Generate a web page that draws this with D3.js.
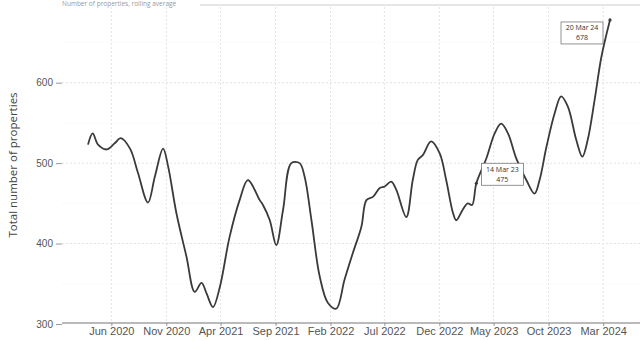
<!DOCTYPE html>
<html>
<head>
    <meta charset="utf-8">
    <style>
        body { margin: 0; background: white; }
        svg { font-family: "Open Sans", sans-serif; display: block; }
    </style>
</head>
<body>
<svg width="641" height="341"></svg>
<script src="https://cdn.jsdelivr.net/npm/d3@7"></script>
<script>
    // values
    let dates = [
        "2020-03-28", "2020-04-10", "2020-04-25", "2020-05-19", "2020-06-11", "2020-06-27",
        "2020-07-23", "2020-08-14", "2020-09-11", "2020-09-30", "2020-10-23", "2020-11-06",
        "2020-11-29", "2020-12-27", "2021-01-19", "2021-02-07", "2021-02-21", "2021-03-11",
        "2021-03-30", "2021-04-26", "2021-05-24", "2021-06-16", "2021-07-19", "2021-07-28",
        "2021-08-16", "2021-09-03", "2021-09-22", "2021-10-15", "2021-11-07", "2021-11-21",
        "2021-12-10", "2022-01-02", "2022-01-25", "2022-02-17", "2022-03-12", "2022-04-04",
        "2022-04-28", "2022-05-12", "2022-05-30", "2022-06-18", "2022-07-02", "2022-07-20",
        "2022-08-03", "2022-08-31", "2022-09-18", "2022-10-02", "2022-10-16", "2022-11-08",
        "2022-12-02", "2022-12-20", "2023-01-08", "2023-01-17", "2023-02-04", "2023-02-18",
        "2023-03-02", "2023-03-14", "2023-04-11", "2023-05-04", "2023-05-22", "2023-06-10",
        "2023-07-03", "2023-07-31", "2023-08-23", "2023-09-06", "2023-09-25", "2023-10-18",
        "2023-11-05", "2023-11-24", "2023-12-17", "2024-01-03", "2024-01-18", "2024-02-06",
        "2024-02-25", "2024-03-20"
    ];
    let values = [
        523, 537, 523, 517, 525, 531,
        518, 488, 451, 483, 518, 496,
        438, 384, 340, 351, 338, 321,
        346, 408, 454, 479, 454, 448,
        429, 398, 442, 500, 500, 483,
        429, 359, 326, 319, 355, 388,
        421, 454, 458, 469, 471, 477,
        467, 433, 479, 504, 510, 527,
        512, 479, 438, 429, 442, 450,
        448, 475, 506, 537, 549, 537,
        506, 479, 462, 479, 520, 562,
        583, 570, 529, 508, 529, 578,
        632, 678
    ];
    let xTickDates = ["2020-06-01", "2020-11-01", "2021-04-01", "2021-09-01", "2022-02-01",
        "2022-07-01", "2022-12-01", "2023-05-01", "2023-10-01", "2024-03-01"];
    let yTicks = [300, 400, 500, 600];
    let yMinor = [350, 450, 550, 650];
    let notes = [
        { date: "2023-03-14", label: "14 Mar 23", value: 475 },
        { date: "2024-03-20", label: "20 Mar 24", value: 678 }
    ];

    let parse = d3.timeParse("%Y-%m-%d");
    let data = dates.map((d, i) => ({ date: parse(d), value: values[i] }));

    let svg = d3.select("svg");
    let plotLeft = 62, plotRight = 640, plotTop = 7, plotBottom = 323;

    let x = d3.scaleTime()
        .domain(d3.extent(data, d => d.date))
        .range([88, 610]);
    let y = d3.scaleLinear()
        .domain([300, 600])
        .range([324, 82.7]);

    // light grid
    let grid = svg.append("g");
    grid.selectAll(".vg")
        .data(xTickDates.map(parse))
        .join("line")
        .attr("x1", d => x(d)).attr("x2", d => x(d))
        .attr("y1", plotTop).attr("y2", plotBottom)
        .attr("stroke", "#e3e3e3")
        .attr("stroke-dasharray", "2,2");
    grid.selectAll(".hg")
        .data(yTicks.slice(1))
        .join("line")
        .attr("x1", plotLeft).attr("x2", plotRight)
        .attr("y1", d => y(d)).attr("y2", d => y(d))
        .attr("stroke", "#e3e3e3")
        .attr("stroke-dasharray", "2,2");
    grid.selectAll(".mg")
        .data(yMinor)
        .join("line")
        .attr("x1", plotLeft).attr("x2", plotRight)
        .attr("y1", d => y(d)).attr("y2", d => y(d))
        .attr("stroke", "#efefef")
        .attr("stroke-dasharray", "1,3");

    // top rule + small title
    svg.append("line")
        .attr("x1", 200).attr("x2", plotRight)
        .attr("y1", 5).attr("y2", 5)
        .attr("stroke", "#e6e6e6").attr("stroke-width", 2);
    svg.append("text")
        .attr("x", 62).attr("y", 6)
        .attr("font-size", 6.5).attr("fill", "#999")
        .text("Number of properties, rolling average");

    // axes
    let xAxis = svg.append("g")
        .attr("transform", `translate(0,${plotBottom})`)
        .call(d3.axisBottom(x).tickValues(xTickDates.map(parse))
            .tickFormat(d3.timeFormat("%b %Y")).tickSize(3));
    xAxis.select(".domain").remove();
    xAxis.append("line")
        .attr("x1", plotLeft).attr("x2", plotRight)
        .attr("stroke", "#777").attr("stroke-width", 1.2);
    xAxis.selectAll("text").attr("font-size", 11).attr("fill", "#555").attr("dy", "0.55em");
    xAxis.selectAll(".tick line").attr("stroke", "#999");

    let yAxis = svg.append("g")
        .attr("transform", `translate(${plotLeft},0)`)
        .call(d3.axisLeft(y).tickValues(yTicks).tickSize(6).tickPadding(3));
    yAxis.select(".domain").remove();
    yAxis.selectAll("text").attr("font-size", 10).attr("fill", "#555");
    yAxis.selectAll(".tick line").attr("stroke", "#999");

    svg.append("text")
        .attr("transform", `translate(17,${(plotTop + plotBottom) / 2}) rotate(-90)`)
        .attr("text-anchor", "middle")
        .attr("font-size", 11.5)
        .attr("fill", "#444")
        .text("Total number of properties");

    // the series
    let line = d3.line()
        .x(d => x(d.date))
        .y(d => y(d.value))
        .curve(d3.curveCatmullRom.alpha(0.5));
    svg.append("path")
        .datum(data)
        .attr("d", line)
        .attr("fill", "none")
        .attr("stroke", "#3a3a3a")
        .attr("stroke-width", 1.8)
        .attr("stroke-linejoin", "round");

    // annotations
    let offsets = [{ dx: 26, dy: -9 }, { dx: -28, dy: 13 }];
    notes.forEach((n, i) => {
        let px = x(parse(n.date)), py = y(n.value);
        let cx = px + offsets[i].dx, cy = py + offsets[i].dy;
        svg.append("circle").attr("cx", px).attr("cy", py).attr("r", 1.6).attr("fill", "#3a3a3a");
        let g = svg.append("g").attr("transform", `translate(${cx},${cy})`);
        g.append("rect")
            .attr("x", -21).attr("y", -11).attr("width", 42).attr("height", 22)
            .attr("fill", "white").attr("stroke", "#666").attr("stroke-width", 0.7);
        g.append("text").attr("y", -2.5).attr("text-anchor", "middle")
            .attr("font-size", 7).attr("fill", "#333").text(n.label);
        g.append("text").attr("y", 7.5).attr("text-anchor", "middle")
            .attr("font-size", 7).attr("fill", "#333").text(n.value);
    });
</script>
</body>
</html>
